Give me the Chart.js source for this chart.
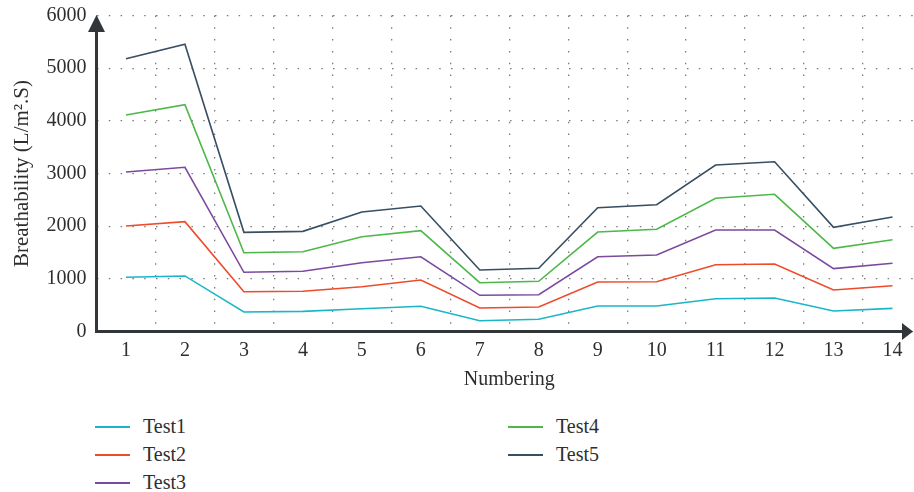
<!DOCTYPE html>
<html lang="en">
<head>
  <meta charset="UTF-8" />
  <title>Breathability</title>
  <script src="https://cdn.jsdelivr.net/npm/chart.js"></script>
  <style>
    body {
      margin: 0;
      overflow: hidden;
      background: #fff;
      font-family: "Liberation Serif", serif;
    }
    #wrap {
      position: absolute;
      left: 0;
      top: 0;
      width: 922px;
      height: 392px;
    }
    #legend {
      position: absolute;
      left: 95px;
      top: 412px;
      display: grid;
      grid-template-rows: repeat(3, 28px);
      grid-template-columns: 413px 200px;
      grid-auto-flow: column;
      font-size: 20px;
      color: #2e2e2e;
    }
    .item {
      line-height: 28px;
      white-space: nowrap;
    }
    .swatch {
      display: inline-block;
      width: 35px;
      height: 2px;
      vertical-align: middle;
      margin-right: 13px;
      position: relative;
      top: -1px;
    }
  </style>
</head>
<body>
  <div id="wrap"><canvas id="chart"></canvas></div>
  <div id="legend"></div>

  <script>
    const numbering = ["1", "2", "3", "4", "5", "6", "7", "8", "9", "10", "11", "12", "13", "14"];

    const test1 = [1030, 1055, 370, 383, 433, 478, 205, 232, 484, 484, 623, 636, 389, 440];
    const test2 = [2003, 2085, 756, 763, 851, 978, 446, 465, 940, 946, 1268, 1282, 788, 870];
    const test3 = [3028, 3118, 1124, 1143, 1306, 1420, 687, 699, 1420, 1452, 1927, 1927, 1193, 1295];
    const test4 = [4110, 4306, 1496, 1515, 1800, 1914, 927, 953, 1889, 1940, 2529, 2605, 1580, 1743];
    const test5 = [5180, 5453, 1883, 1902, 2269, 2383, 1168, 1200, 2350, 2408, 3161, 3224, 1978, 2174];

    const seriesNames = ["Test1", "Test2", "Test3", "Test4", "Test5"];
    const seriesColors = ["#1ab6c8", "#ee4b2b", "#7b4a9e", "#4db849", "#384e62"];

    const axisColor = "#333638";
    const textColor = "#2e2e2e";
    const font = { family: "Liberation Serif", size: 20 };

    // axis lines with arrow heads, drawn by hand
    const arrowAxes = {
      id: "arrowAxes",
      afterDraw(chart) {
        const { ctx, chartArea } = chart;
        const x0 = chartArea.left;
        const y0 = chartArea.bottom;
        const xEnd = Math.min(chartArea.right, 913);
        ctx.save();
        ctx.strokeStyle = axisColor;
        ctx.fillStyle = axisColor;
        ctx.lineWidth = 3;
        ctx.beginPath();
        ctx.moveTo(x0, y0 + 1.5);
        ctx.lineTo(x0, chartArea.top + 12);
        ctx.moveTo(x0 - 1.5, y0);
        ctx.lineTo(xEnd - 8, y0);
        ctx.stroke();
        ctx.beginPath();
        ctx.moveTo(x0, chartArea.top - 0.5);
        ctx.lineTo(x0 - 8.5, chartArea.top + 16.5);
        ctx.lineTo(x0 + 8.5, chartArea.top + 16.5);
        ctx.closePath();
        ctx.fill();
        ctx.beginPath();
        ctx.moveTo(xEnd, y0);
        ctx.lineTo(xEnd - 11, y0 - 8.5);
        ctx.lineTo(xEnd - 11, y0 + 8.5);
        ctx.closePath();
        ctx.fill();
        ctx.restore();
      }
    };

    const allSeries = [test1, test2, test3, test4, test5];

    const chart = new Chart(document.getElementById("chart"), {
      type: "line",
      data: {
        labels: numbering,
        datasets: allSeries.map((values, i) => ({
          label: seriesNames[i],
          data: values,
          borderColor: seriesColors[i],
          backgroundColor: seriesColors[i],
          borderWidth: 1.6,
          pointRadius: 0,
          tension: 0,
          fill: false
        }))
      },
      options: {
        responsive: true,
        maintainAspectRatio: false,
        animation: false,
        layout: { padding: { top: 15.5, left: 0, right: 0, bottom: 0 } },
        plugins: {
          legend: { display: false },
          tooltip: { enabled: false }
        },
        scales: {
          x: {
            offset: true,
            grid: {
              offset: true,
              color: "#7a7a7a",
              lineWidth: 1.3,
              drawTicks: false
            },
            border: { display: false, dash: [1.5, 10.3] },
            ticks: { font: font, color: textColor, padding: 7, maxRotation: 0 },
            title: {
              display: true,
              text: "Numbering",
              font: font,
              color: textColor,
              padding: 0
            },
            afterFit(scale) {
              scale.height = 60.5;
              scale.paddingLeft = 0;
              scale.paddingRight = 0;
            }
          },
          y: {
            min: 0,
            max: 6000,
            grid: {
              color: "#7a7a7a",
              lineWidth: 1.3,
              drawTicks: false
            },
            border: { display: false, dash: [1.5, 10.3] },
            ticks: {
              stepSize: 1000,
              font: font,
              color: textColor,
              padding: 10,
              callback: v => String(v)
            },
            title: {
              display: true,
              text: "Breathability (L/m\u00B2.S)",
              font: { family: "Liberation Serif", size: 21 },
              color: textColor,
              padding: { top: 10, bottom: 0 }
            },
            afterFit(scale) {
              scale.width = 96.5;
              scale.paddingTop = 0;
              scale.paddingBottom = 0;
            }
          }
        }
      },
      plugins: [arrowAxes]
    });

    // legend laid out in columns below the chart
    const legend = document.getElementById("legend");
    chart.data.datasets.forEach(ds => {
      const item = document.createElement("div");
      item.className = "item";
      const sw = document.createElement("span");
      sw.className = "swatch";
      sw.style.background = ds.borderColor;
      item.appendChild(sw);
      item.appendChild(document.createTextNode(ds.label));
      legend.appendChild(item);
    });
  </script>
</body>
</html>
